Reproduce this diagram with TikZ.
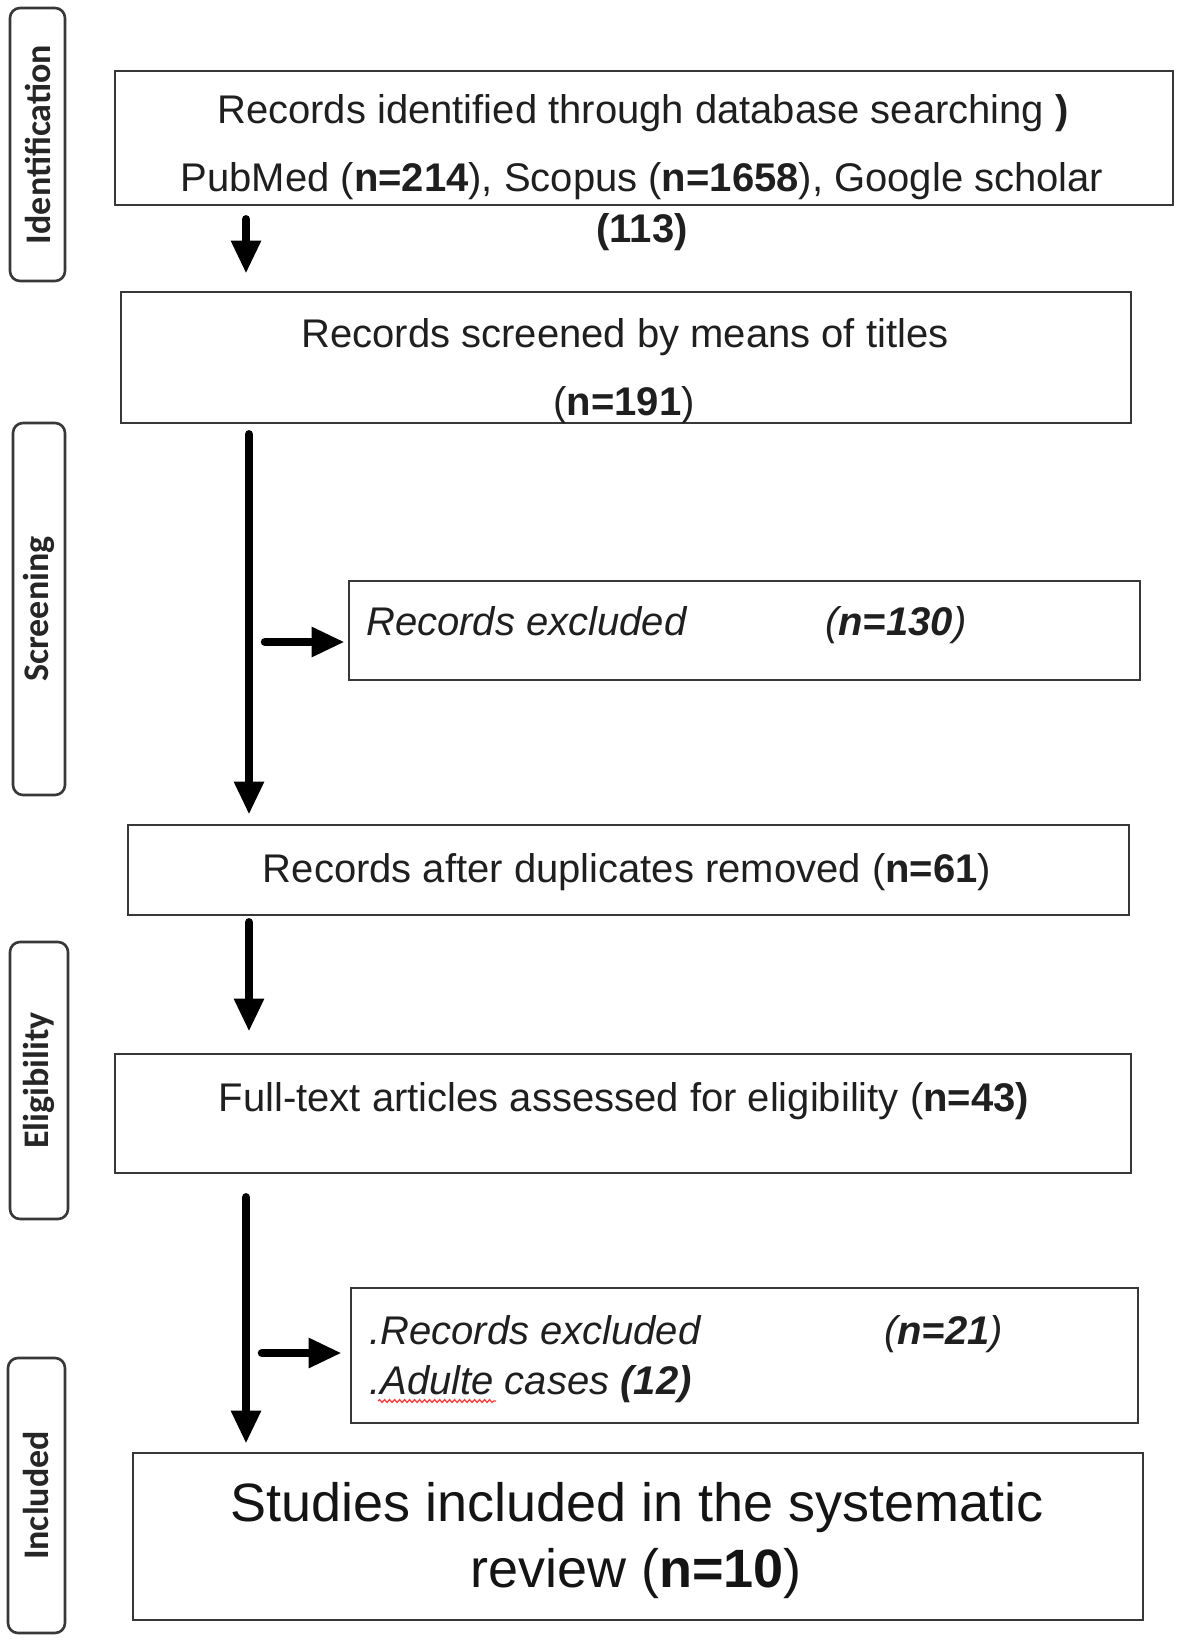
\documentclass[tikz,border=0pt]{standalone}
\usepackage{fontspec}
\setmainfont{Liberation Sans}
\newfontfamily\labfont{Carlito}
\usetikzlibrary{arrows.meta,decorations.pathmorphing}
\begin{document}
\begin{tikzpicture}[x=1pt,y=-1pt,
  box/.style={draw=black!78, line width=2.6pt, inner sep=0pt},
  lab/.style={draw=black!78, line width=2.6pt, rounded corners=10pt, inner sep=0pt},
  labtxt/.style={rotate=90, inner sep=0pt, font=\labfont\bfseries\fontsize{36}{40}\selectfont, text=black!85},
  txt/.style={inner sep=0pt, font=\fontsize{40}{48}\selectfont, text=black!88},
  bigtxt/.style={inner sep=0pt, font=\fontsize{54}{64}\selectfont, text=black!92},
  arr/.style={line width=8.5pt, line cap=round, -{Triangle[width=28pt,length=33pt]}}
  ]
\useasboundingbox[fill=white] (0,0) rectangle (1181,1645);

% stage labels
\node[lab, minimum width=55pt, minimum height=273pt] (Lid) at (37.5,144.5) {};
\node[labtxt] (Lidt) at (Lid.center) {Identification};
\node[lab, minimum width=52pt, minimum height=372pt] (Lsc) at (39,609) {};
\node[labtxt] (Lsct) at (Lsc.center) {Screening};
\node[lab, minimum width=58pt, minimum height=277pt] (Lel) at (39,1080.5) {};
\node[labtxt] (Lelt) at (Lel.center) {Eligibility};
\node[lab, minimum width=57pt, minimum height=275pt] (Lin) at (36.5,1495.5) {};
\node[labtxt] (Lint) at (Lin.center) {Included};

% boxes
\node[box, minimum width=1058pt, minimum height=134pt] (b1) at (644,138) {};
\node[box, minimum width=1010pt, minimum height=131pt] (b2) at (626,357.5) {};
\node[box, minimum width=791pt, minimum height=99pt] (e1) at (744.5,630.5) {};
\node[box, minimum width=1001pt, minimum height=90pt] (b3) at (628.5,870) {};
\node[box, minimum width=1016pt, minimum height=119pt] (b4) at (623,1113.5) {};
\node[box, minimum width=787pt, minimum height=135pt] (e2) at (744.5,1355.5) {};
\node[box, minimum width=1010pt, minimum height=167pt] (b5) at (638,1536.5) {};

% texts
\node[txt, anchor=base] (t11) at (643,124) {Records identified through database searching \textbf{)}};
\node[txt, anchor=base] (t12) at (642,192) {PubMed (\textbf{n=214}), Scopus (\textbf{n=1658}), Google scholar};
\node[txt, anchor=base] (t13) at (642,243) {\textbf{(113)}};
\node[txt, anchor=base] (t21) at (625,347) {Records screened by means of titles};
\node[txt, anchor=base] (t22) at (624,415) {(\textbf{n=191})};
\node[txt, anchor=base west] (te11) at (366,635) {\itshape Records excluded};
\node[txt, anchor=base west] (te12) at (825,635) {\itshape (\textbf{n=130})};
\node[txt, anchor=base] (t31) at (627,882) {Records after duplicates removed (\textbf{n=61})};
\node[txt, anchor=base] (t41) at (624,1111) {Full-text articles assessed for eligibility (\textbf{n=43)}};
\node[txt, anchor=base west] (te21) at (369,1344) {\itshape .Records excluded};
\node[txt, anchor=base west] (te22) at (884,1344) {\itshape (\textbf{n=21})};
\node[txt, anchor=base west] (te23) at (369,1394) {\itshape .Adulte cases \textbf{(12)}};
\node[bigtxt, anchor=base] (t51) at (637,1521) {Studies included in the systematic};
\node[bigtxt, anchor=base] (t52) at (636,1587) {review (\textbf{n=10})};

% spell-check underline
\coordinate (w1) at (378,1401);
\coordinate (w2) at (496,1401);
\draw[red!75, line width=1.3pt, decorate, decoration={snake, amplitude=1.4pt, segment length=5pt}] (w1) -- (w2);

% arrows
\coordinate (cA) at (246,0);
\coordinate (cB) at (249,0);
\draw[arr, shorten <=13pt, shorten >=17pt] (cA |- b1.south) -- (cA |- b2.north);
\draw[arr, shorten <=10pt, shorten >=9pt] (cB |- b2.south) -- (cB |- b3.north);
\coordinate (s1) at (265,642);
\draw[arr, shorten >=3pt] (s1) -- (s1 -| e1.west);
\draw[arr, shorten <=6pt, shorten >=21pt] (cB |- b3.south) -- (cB |- b4.north);
\draw[arr, shorten <=23pt, shorten >=8pt] (cA |- b4.south) -- (cA |- b5.north);
\coordinate (s2) at (262,1353);
\draw[arr, shorten >=8pt] (s2) -- (s2 -| e2.west);
\end{tikzpicture}
\end{document}
